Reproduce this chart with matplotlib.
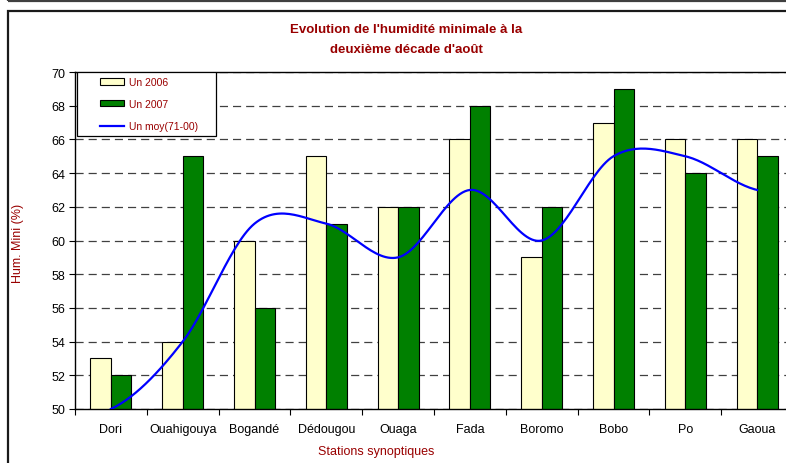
"""Evolution de l'humidite minimale - deuxieme decade d'aout."""

import numpy as np
import matplotlib
matplotlib.use("Agg")
import matplotlib.pyplot as plt
from matplotlib.patches import Patch, Rectangle
from matplotlib.lines import Line2D

stations = ["Dori", "Ouahigouya", "Bogandé", "Dédougou", "Ouaga",
            "Fada", "Boromo", "Bobo", "Po", "Gaoua"]
un_2006 = [53, 54, 60, 65, 62, 66, 59, 67, 66, 66]
un_2007 = [52, 65, 56, 61, 62, 68, 62, 69, 64, 65]
un_moy = [50, 54, 61, 61, 59, 63, 60, 65, 65, 63]

DARK_RED = "#990000"
W, H = 786, 464

plt.rcParams["font.family"] = ["Liberation Sans", "DejaVu Sans"]


def fx(px):
    return px / W


def fy(py):
    return 1 - py / H


def smooth_curve(xs, ys, steps=30):
    # excel-like smoothed line: cubic hermite with catmull-rom tangents
    xs = np.asarray(xs, float)
    ys = np.asarray(ys, float)
    n = len(ys)
    m = np.empty(n)
    for i in range(n):
        lo = ys[max(i - 1, 0)]
        hi = ys[min(i + 1, n - 1)]
        m[i] = (hi - lo) / 2
    out_x, out_y = [], []
    t = np.linspace(0, 1, steps)
    h00 = 2 * t**3 - 3 * t**2 + 1
    h10 = t**3 - 2 * t**2 + t
    h01 = -2 * t**3 + 3 * t**2
    h11 = t**3 - t**2
    for i in range(n - 1):
        out_x.append(xs[i] + t * (xs[i + 1] - xs[i]))
        out_y.append(h00 * ys[i] + h10 * m[i] + h01 * ys[i + 1] + h11 * m[i + 1])
    return np.concatenate(out_x), np.concatenate(out_y)


fig = plt.figure(figsize=(W / 100, H / 100), dpi=100)

# outer frames (chart area + bottom of the box above)
fig.patches.append(Rectangle((fx(7.5), fy(H + 20)), 1.0, fy(11.5) - fy(H + 20),
                             transform=fig.transFigure, fill=False,
                             edgecolor="#1a1a1a", linewidth=1.6))
fig.patches.append(Rectangle((fx(7.5), fy(2)), 1.0, 0.2,
                             transform=fig.transFigure, fill=False,
                             edgecolor="#404040", linewidth=1.6))

left, right, top, bottom = 75, 793, 73, 410
ax = fig.add_axes([fx(left), fy(bottom), fx(right - left), fy(top) - fy(bottom)])

x = np.arange(len(stations))
bw = 0.286
ax.bar(x - bw / 2, un_2006, bw, color="#FFFFCC", edgecolor="black", linewidth=0.8, zorder=2)
ax.bar(x + bw / 2, un_2007, bw, color="#008000", edgecolor="black", linewidth=0.8, zorder=2)

sx, sy = smooth_curve(x, un_moy)
ax.plot(sx, sy, color="#0000FF", linewidth=1.6, zorder=3)

ax.set_xlim(-0.5, len(stations) - 0.5)
ax.set_ylim(50, 70)
ax.set_yticks(np.arange(50, 71, 2))
ax.set_xticks(x)
ax.set_xticklabels(stations)
ax.set_xticks(np.arange(-0.5, len(stations)), minor=True)
ax.tick_params(axis="x", which="major", length=0, pad=10, labelsize=9)
ax.tick_params(axis="x", which="minor", length=4, width=0.8, direction="out")
ax.tick_params(axis="y", length=4, width=0.8, pad=3, labelsize=9)

ax.set_axisbelow(True)
ax.yaxis.grid(True, linestyle=(0, (6.5, 4)), color="#404040", linewidth=0.9)
for side in ("left", "bottom", "top"):
    ax.spines[side].set_color("black")
    ax.spines[side].set_linewidth(1.0)
ax.spines["right"].set_visible(False)

fig.text(fx(18), fy(243), "Hum. Mini (%)", rotation=90, color=DARK_RED,
         fontsize=9, ha="center", va="center")
fig.text(fx(376), fy(452), "Stations synoptiques", color=DARK_RED,
         fontsize=9, ha="center", va="center")
fig.text(fx(406), fy(30), "Evolution de l'humidité minimale à la", color=DARK_RED,
         fontsize=9.5, fontweight="bold", ha="center", va="center")
fig.text(fx(406), fy(50), "deuxième décade d'août", color=DARK_RED,
         fontsize=9.5, fontweight="bold", ha="center", va="center")

# legend box drawn by hand so the inner padding matches
ax.add_patch(Rectangle((0.003, (bottom - 137) / (bottom - top)), (216 - 77) / (right - left),
                       (137 - top) / (bottom - top), transform=ax.transAxes,
                       facecolor="white", edgecolor="black", linewidth=0.9, zorder=5))
handles = [
    Patch(facecolor="#FFFFCC", edgecolor="black", linewidth=0.8),
    Patch(facecolor="#008000", edgecolor="black", linewidth=0.8),
    Line2D([], [], color="#0000FF", linewidth=1.6),
]
leg = ax.legend(handles, ["Un 2006", "Un 2007", "Un moy(71-00)"], loc="upper left",
                bbox_to_anchor=((100 - left) / (right - left), 0.985), frameon=False,
                borderpad=0, borderaxespad=0, fontsize=7.5, handlelength=2.3,
                handleheight=0.55, handletextpad=0.45, labelspacing=1.15)
leg.set_zorder(6)
for t in leg.get_texts():
    t.set_color(DARK_RED)

fig.savefig("out.png", dpi=100)
